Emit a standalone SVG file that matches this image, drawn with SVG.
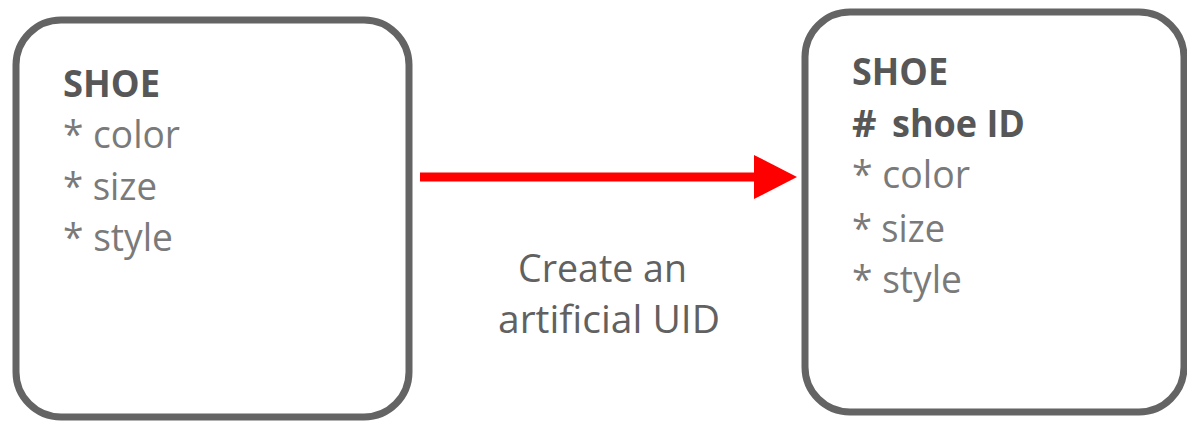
<svg xmlns="http://www.w3.org/2000/svg" width="1187" height="422" viewBox="0 0 1187 422">
<style>
.box{fill:#fff;stroke:#646464;stroke-width:7}
.t{font-family:"Open Sans","Liberation Sans",sans-serif;font-size:38px}
.h{font-weight:bold;fill:#575757}
.a{fill:#7a7a7a}
.lbl{fill:#616161}
</style>
<defs>
<marker id="ah" markerUnits="userSpaceOnUse" markerWidth="44" markerHeight="44" refX="0" refY="22" orient="auto">
<path d="M0,0 L43,22 L0,44 Z" fill="#ff0000"/>
</marker>
</defs>
<rect width="1187" height="422" fill="#fff"/>
<g id="connectors">
<line x1="420" y1="177" x2="754" y2="177" stroke="#ff0000" stroke-width="9" marker-end="url(#ah)"/>
<text class="t lbl" x="518" y="282" textLength="169" lengthAdjust="spacingAndGlyphs">Create an</text>
<text class="t lbl" x="498" y="333" textLength="222" lengthAdjust="spacingAndGlyphs">artificial UID</text>
</g>
<g id="shoe-left">
<rect class="box" x="16" y="20" width="393" height="397" rx="45"/>
<text class="t h" x="63" y="97" textLength="97" lengthAdjust="spacingAndGlyphs">SHOE</text>
<text class="t a" x="63" y="148" textLength="117" lengthAdjust="spacingAndGlyphs">* color</text>
<text class="t a" x="63" y="200" textLength="94" lengthAdjust="spacingAndGlyphs">* size</text>
<text class="t a" x="63" y="251" textLength="110" lengthAdjust="spacingAndGlyphs">* style</text>
</g>
<g id="shoe-right">
<rect class="box" x="805" y="12" width="379" height="400" rx="45"/>
<text class="t h" x="852" y="85" textLength="96" lengthAdjust="spacingAndGlyphs">SHOE</text>
<text class="t h" y="137"><tspan x="852">#</tspan><tspan x="892" textLength="133" lengthAdjust="spacingAndGlyphs">shoe ID</tspan></text>
<text class="t a" x="852" y="188" textLength="118" lengthAdjust="spacingAndGlyphs">* color</text>
<text class="t a" x="852" y="242" textLength="93" lengthAdjust="spacingAndGlyphs">* size</text>
<text class="t a" x="852" y="293" textLength="110" lengthAdjust="spacingAndGlyphs">* style</text>
</g>
</svg>
